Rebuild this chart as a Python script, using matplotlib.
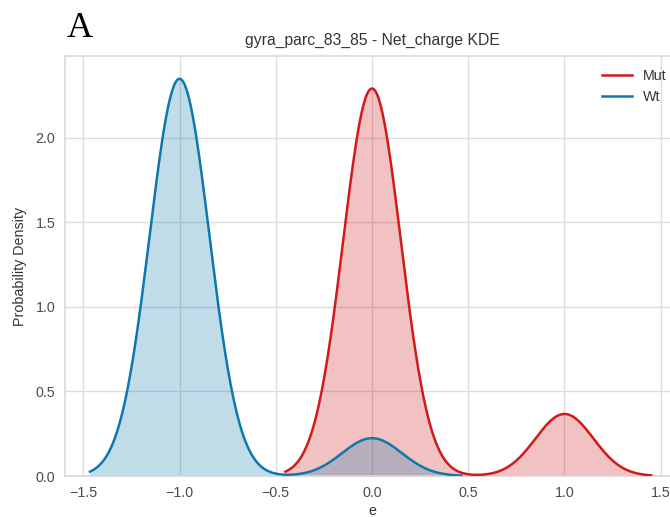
import numpy as np
import matplotlib
matplotlib.use("Agg")
import matplotlib.pyplot as plt

# Data: net charge values and their counts per group
mut_values = [0.0, 1.0]
mut_counts = [25, 4]
wt_values = [-1.0, 0.0]
wt_counts = [21, 2]
mut_bw = 0.150
wt_bw = 0.155
series_names = ["Mut", "Wt"]
title = "gyra_parc_83_85 - Net_charge KDE"
xlabel = "e"
ylabel = "Probability Density"
xticks = [-1.5, -1.0, -0.5, 0.0, 0.5, 1.0, 1.5]
yticks = [0.0, 0.5, 1.0, 1.5, 2.0]


def kde(values, counts, bw, cut=3, n=400):
    v = np.asarray(values, float)
    c = np.asarray(counts, float)
    xs = np.linspace(v.min() - cut * bw, v.max() + cut * bw, n)
    dens = np.zeros_like(xs)
    for vi, ci in zip(v, c):
        dens += ci * np.exp(-0.5 * ((xs - vi) / bw) ** 2) / (bw * np.sqrt(2 * np.pi))
    return xs, dens / c.sum()


plt.rcParams['font.family'] = ['Liberation Sans', 'DejaVu Sans']

fig = plt.figure(figsize=(6.7, 5.17), dpi=100)
ax = fig.add_axes([65 / 670, 41 / 517, 614 / 670, 420 / 517])

red = '#d11a1a'
blue = '#0e78ad'

xm, dm = kde(mut_values, mut_counts, mut_bw)
xw, dw = kde(wt_values, wt_counts, wt_bw)

ax.plot(xm, dm, color=red, lw=1.8, label=series_names[0], zorder=3)
ax.fill_between(xm, dm, color=red, alpha=0.27, lw=0, zorder=2)
ax.plot(xw, dw, color=blue, lw=1.8, label=series_names[1], zorder=3)
ax.fill_between(xw, dw, color=blue, alpha=0.26, lw=0, zorder=2)

ax.set_xlim(-1.595, 1.595)
ax.set_ylim(0, 2.485)
ax.set_xticks(xticks)
ax.set_yticks(yticks)
ax.set_xticklabels([f"{t:.1f}".replace("-", "\u2212") for t in xticks])
ax.set_yticklabels([f"{t:.1f}" for t in yticks])

ax.grid(True, color='#dcdcdc', lw=1.0, zorder=0)
ax.set_axisbelow(True)
for s in ax.spines.values():
    s.set_color('#d9d9d9')
    s.set_linewidth(1.2)
ax.tick_params(length=0, labelsize=10.3, colors='#4a4a4a', pad=7)

ax.set_title(title, fontsize=11.3, color='#333333', pad=8)
ax.set_xlabel(xlabel, fontsize=10.3, color='#333333', labelpad=3)
ax.set_ylabel(ylabel, fontsize=10.3, color='#333333', labelpad=6)

leg = ax.legend(loc='upper right', frameon=False, fontsize=10.3,
                handlelength=2.1, handletextpad=0.7, labelspacing=0.47)
for t in leg.get_texts():
    t.set_color('#333333')

fig.text(67 / 670, 1 - 37 / 517, "A", family=['Liberation Serif', 'DejaVu Serif'],
         fontsize=26, color='black', ha='left', va='baseline')

fig.savefig("out.png", dpi=100)
